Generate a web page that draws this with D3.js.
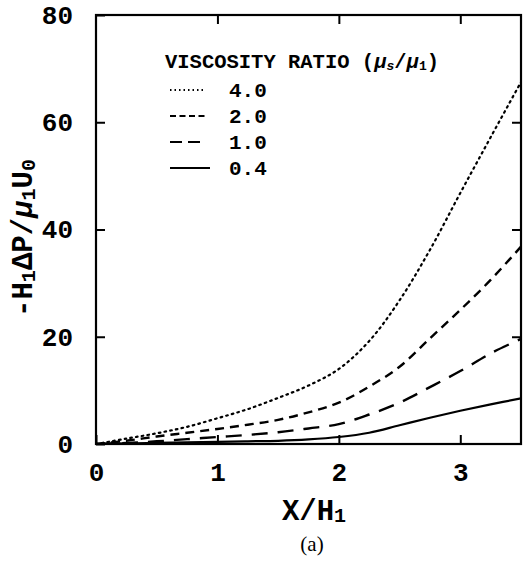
<!DOCTYPE html>
<html><head><meta charset="utf-8">
<script src="https://cdn.jsdelivr.net/npm/d3@7"></script>
<style>body{margin:0;background:#fff}</style>
</head><body>
<svg id="c" width="525" height="562"></svg>
<script>
const xs = [0,0.25,0.5,0.75,1,1.25,1.5,1.75,2,2.25,2.5,2.75,3,3.25,3.5];
const ratio40 = [0,1.0,2.0,3.2,4.8,6.5,8.6,10.9,14.0,19.2,26.8,36.2,46.8,57.2,67.5];
const ratio20 = [0,0.6,1.4,2.1,2.8,3.6,4.5,5.9,7.7,10.7,14.4,19.7,25.0,30.6,36.8];
const ratio10 = [0,0.2,0.5,0.9,1.3,1.7,2.2,2.9,3.7,5.5,7.7,10.6,13.6,16.9,19.6];
const ratio04 = [0,0.1,0.2,0.3,0.4,0.5,0.6,0.85,1.3,2.1,3.5,4.9,6.2,7.4,8.5];
const seriesLabels = ["4.0","2.0","1.0","0.4"];
const xTicks = [0,1,2,3];
const yTicks = [0,20,40,60,80];

const svg = d3.select("#c");
const L=96,R=521,T=15,B=444;
const x = d3.scaleLinear().domain([0,3.5]).range([L,R]);
const y = d3.scaleLinear().domain([0,80]).range([B,T]);
const mono = "'Liberation Mono','Courier New',monospace";

const styles = [
  {dash:"1.6,4.2", w:2.2, cap:"round"},
  {dash:"9,6", w:2.4, cap:"butt"},
  {dash:"16,10", w:2.4, cap:"butt"},
  {dash:null, w:2.2, cap:"butt"}
];
const series = [ratio40, ratio20, ratio10, ratio04];

const g = svg.append("g");
g.append("defs").append("clipPath").attr("id","clip")
 .append("rect").attr("x",L).attr("y",T).attr("width",R-L).attr("height",B-T);

const line = d3.line().x((d,i)=>x(xs[i])).y(d=>y(d)).curve(d3.curveCatmullRom.alpha(0.5));
series.forEach((s,k)=>{
  g.append("path").attr("d",line(s)).attr("fill","none").attr("stroke","#000")
   .attr("stroke-width",styles[k].w).attr("stroke-linecap",styles[k].cap)
   .attr("stroke-dasharray",styles[k].dash).attr("clip-path","url(#clip)");
});

// axes (inward ticks on all four sides)
const tk = 9;
g.append("g").attr("transform",`translate(0,${B})`)
 .call(d3.axisBottom(x).tickValues(xTicks).tickSize(-tk).tickPadding(tk+10).tickFormat(d3.format("d")))
 .call(a=>{a.select(".domain").remove();});
g.append("g").attr("transform",`translate(0,${T})`)
 .call(d3.axisTop(x).tickValues(xTicks.filter(d=>d>0)).tickSize(-tk).tickFormat(""))
 .call(a=>a.select(".domain").remove());
g.append("g").attr("transform",`translate(${L},0)`)
 .call(d3.axisLeft(y).tickValues(yTicks).tickSize(-tk).tickPadding(tk+14).tickFormat(d3.format("d")))
 .call(a=>a.select(".domain").remove());
g.append("g").attr("transform",`translate(${R},0)`)
 .call(d3.axisRight(y).tickValues(yTicks.filter(d=>d>0&&d<80)).tickSize(-tk).tickFormat(""))
 .call(a=>a.select(".domain").remove());
g.selectAll(".tick line").attr("stroke","#000").attr("stroke-width",2);
g.selectAll(".tick text").attr("font-family",mono).attr("font-weight","bold")
 .attr("font-size",26).attr("fill","#000");

g.append("rect").attr("x",L).attr("y",T).attr("width",R-L).attr("height",B-T)
 .attr("fill","none").attr("stroke","#000").attr("stroke-width",2.2);

// axis titles
const xt = svg.append("text").attr("x",314).attr("y",520).attr("text-anchor","middle")
 .attr("font-family",mono).attr("font-weight","bold").attr("font-size",29);
xt.append("tspan").text("X/H");
xt.append("tspan").attr("font-size",20).attr("dy",2).text("1");

const yt = svg.append("text").attr("transform","translate(32,238) rotate(-90)")
 .attr("text-anchor","middle").attr("font-family",mono).attr("font-weight","bold").attr("font-size",29);
yt.append("tspan").text("-H");
yt.append("tspan").attr("font-size",20).attr("dy",3).text("1");
yt.append("tspan").attr("dy",-3).text("ΔP/");
yt.append("tspan").attr("font-style","italic").text("μ");
yt.append("tspan").attr("font-size",20).attr("dy",3).text("1");
yt.append("tspan").attr("dy",-3).text("U");
yt.append("tspan").attr("font-size",20).attr("dy",3).text("0");

svg.append("text").attr("x",312).attr("y",551).attr("text-anchor","middle")
 .attr("font-family","'Liberation Serif','Times New Roman',serif").attr("font-size",21).text("(a)");

// legend
const lt = svg.append("text").attr("x",165).attr("y",68)
 .attr("font-family",mono).attr("font-weight","bold").attr("font-size",20.5);
lt.append("tspan").text("VISCOSITY RATIO (");
lt.append("tspan").attr("font-style","italic").text("μ");
lt.append("tspan").attr("font-size",13).attr("font-style","italic").attr("dy",2).text("s");
lt.append("tspan").attr("dy",-2).text("/");
lt.append("tspan").attr("font-style","italic").text("μ");
lt.append("tspan").attr("font-size",13).attr("dy",2).text("1");
lt.append("tspan").attr("dy",-2).text(")");

const legDash = ["1.5,3","6,3.5","12,6",null];
seriesLabels.forEach((lab,k)=>{
  const yy = 90 + k*26;
  svg.append("line").attr("x1",170).attr("x2",k===3?210:(k===2?201:206)).attr("y1",yy).attr("y2",yy)
   .attr("stroke","#000").attr("stroke-width",k===0?1.8:2.2).attr("stroke-dasharray",legDash[k]);
  svg.append("text").attr("x",229).attr("y",yy+7).attr("font-family",mono).attr("font-weight","bold")
   .attr("font-size",21).text(lab);
});
</script>
</body></html>
